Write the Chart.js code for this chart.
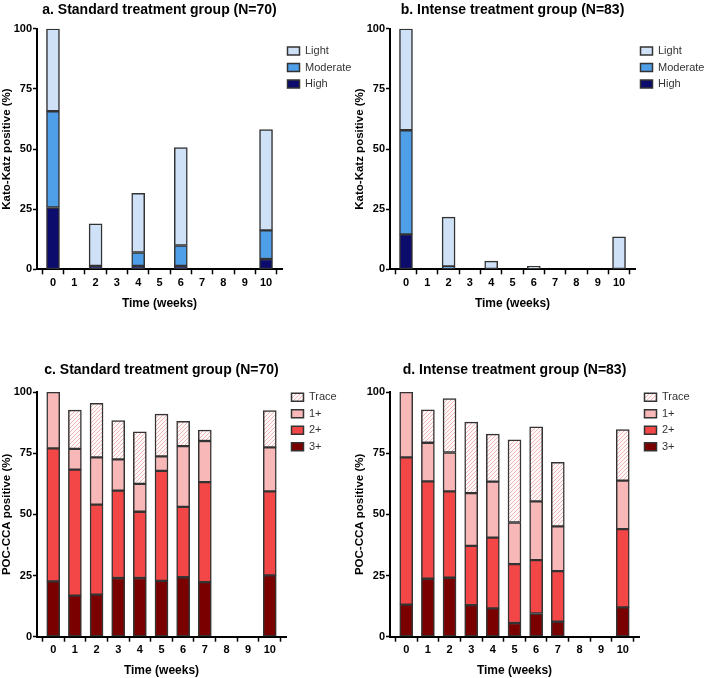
<!DOCTYPE html>
<html><head><meta charset="utf-8">
<script src="https://cdn.jsdelivr.net/npm/chart.js@4.4.0/dist/chart.umd.min.js"></script>
<style>
html,body{margin:0;padding:0;background:#fff;width:706px;height:678px;overflow:hidden}
canvas{position:absolute}
</style></head><body>
<canvas id="ca" width="353" height="318" style="left:0;top:0"></canvas>
<canvas id="cb" width="353" height="318" style="left:353px;top:0"></canvas>
<canvas id="cc" width="353" height="320" style="left:0;top:358px"></canvas>
<canvas id="cd" width="353" height="320" style="left:353px;top:358px"></canvas>
<script>
// ---------- data ----------
const weeks = [0,1,2,3,4,5,6,7,8,9,10];
const yTicks = [0,25,50,75,100];
const kkLabels = ['High','Moderate','Light'];
const ccaLabels = ['3+','2+','1+','Trace'];

// a. Standard treatment group (Kato-Katz), segment heights in %
const aHigh     = [25.7,null,1.4,null,1.4,null,1.4,null,null,null,4.3];
const aModerate = [40.0,null,null,null,5.6,null,8.5,null,null,null,11.9];
const aLight    = [34.3,null,17.5,null,24.6,null,40.7,null,null,null,41.9];

// b. Intense treatment group (Kato-Katz)
const bHigh     = [14.5,null,null,null,null,null,null,null,null,null,null];
const bModerate = [43.3,null,1.2,null,null,null,null,null,null,null,null];
const bLight    = [42.2,null,20.5,null,3.4,null,1.2,null,null,null,13.5];

// c. Standard treatment group (POC-CCA)
const c3 = [22.6,16.8,17.2,24.0,24.0,22.8,24.3,22.3,null,null,25.1];
const c2 = [54.4,51.5,36.8,35.7,27.1,45.0,28.8,40.9,null,null,34.3];
const c1 = [23.0,8.5,19.3,12.8,11.4,5.9,24.8,16.8,null,null,18.0];
const cT = [null,15.8,22.1,15.9,21.3,17.3,10.2,4.5,null,null,15.0];

// d. Intense treatment group (POC-CCA)
const d3 = [13.1,23.7,24.1,12.9,11.6,5.6,9.5,6.1,null,null,12.0];
const d2 = [60.2,39.8,35.3,24.2,28.9,24.1,21.8,20.7,null,null,32.0];
const d1 = [26.7,15.8,15.9,21.6,22.9,17.0,24.0,18.3,null,null,19.8];
const dT = [null,13.5,22.1,29.0,19.4,33.8,30.5,26.2,null,null,20.9];

// ---------- styling ----------
const F = '"Liberation Sans", Arial, Helvetica, sans-serif';
const BORDER = '#333333';

function hatch(){
  const n=4;
  const c=document.createElement('canvas'); c.width=n; c.height=n;
  const g=c.getContext('2d');
  g.fillStyle='#fffafa'; g.fillRect(0,0,n,n);
  g.strokeStyle='#f2b4b4'; g.lineWidth=1;
  g.beginPath();
  g.moveTo(0,n); g.lineTo(n,0);
  g.moveTo(-1,1); g.lineTo(1,-1);
  g.moveTo(n-1,n+1); g.lineTo(n+1,n-1);
  g.stroke();
  return g.createPattern(c,'repeat');
}

function ds(label, arr, color, thick){
  return {label, data: weeks.map((w,i)=>({x:w, y:arr[i]})), backgroundColor: color,
    borderColor: BORDER, borderWidth: 1.5, borderSkipped: false, barThickness: thick};
}

function fixLegend(w){
  return {id:'fixLegend', beforeLayout(chart){
    const lg = chart.legend;
    if (lg && !lg._fx){ const f = lg.fit; lg.fit = function(){ f.call(this); this.width = w; }; lg._fx = true; }
  }};
}

function make(id, cfg){
  new Chart(document.getElementById(id), {
    type:'bar',
    data:{datasets: cfg.datasets},
    plugins:[fixLegend(cfg.legendW)],
    options:{
      responsive:false, animation:false, devicePixelRatio:1,
      layout:{padding:0},
      plugins:{
        tooltip:{enabled:false},
        title:{display:true, text:cfg.title, fullSize:false, color:'#000',
          font:{family:F, size:14, weight:'bold'}, padding:{top:cfg.tTop, bottom:cfg.tBot}},
        legend:{position:'right', align:'start', reverse:true, fullSize:true,
          title:{display:true, text:'', padding:0, font:{size:1, lineHeight: cfg.legT+'px'}},
          labels:{boxWidth:12, boxHeight:8, padding:5.5, color:'#333', font:{family:F, size:11}}}
      },
      scales:{
        x:{type:'linear', stacked:true, min:-0.75, max:10.75, offset:false,
          afterFit: s => { s.height = cfg.xH; },
          afterBuildTicks: s => { s.ticks = weeks.map(v=>({value:v})); },
          border:{display:true, color:'#000', width:2},
          grid:{display:true, drawOnChartArea:false, drawTicks:true, tickLength:5, tickWidth:1.5, tickColor:'#000', color:'#000'},
          ticks:{autoSkip:false, maxRotation:0, padding:cfg.xPad, color:'#000', font:{family:F, size:11, weight:'bold'}},
          title:{display:true, text:'Time (weeks)', color:'#000', font:{family:F, size:12, weight:'bold'}, padding:{top:0, bottom:cfg.xtBot}}
        },
        y:{stacked:true, min:0, max:100,
          afterFit: s => { s.width = 37; },
          afterBuildTicks: s => { s.ticks = yTicks.map(v=>({value:v})); },
          border:{display:true, color:'#000', width:2},
          grid:{display:true, drawOnChartArea:false, drawTicks:true, tickLength:4, tickWidth:1.5, tickColor:'#000', color:'#000'},
          ticks:{padding:1, color:'#000', font:{family:F, size:11, weight:'bold'}},
          title:{display:true, text:cfg.yTitle, color:'#000', font:{family:F, size:11.5, weight:'bold'}, padding:{top:0, bottom:0}}
        }
      }
    }
  });
}

const LIGHT='#cfe1f6', MOD='#4f9ee8', HIGH='#0c0c6c';
const R3='#7a0000', R2='#f34646', R1='#f8b8b8', RT=hatch();

const topCfg = {legendW:71, tTop:2, tBot:10, legT:40, xH:48.7, xPad:2, xtBot:7.5, yTitle:'Kato-Katz positive (%)'};
const botCfg = {legendW:67, tTop:3.5, tBot:13.8, legT:28.2, xH:41.3, xPad:1.5, xtBot:0.2, yTitle:'POC-CCA positive (%)'};

make('ca', Object.assign({}, topCfg, {title:'a. Standard treatment group (N=70)',
  datasets:[ds(kkLabels[0],aHigh,HIGH,13), ds(kkLabels[1],aModerate,MOD,13), ds(kkLabels[2],aLight,LIGHT,13)]}));
make('cb', Object.assign({}, topCfg, {title:'b. Intense treatment group (N=83)',
  datasets:[ds(kkLabels[0],bHigh,HIGH,13), ds(kkLabels[1],bModerate,MOD,13), ds(kkLabels[2],bLight,LIGHT,13)]}));
make('cc', Object.assign({}, botCfg, {title:'c. Standard treatment group (N=70)',
  datasets:[ds(ccaLabels[0],c3,R3,13), ds(ccaLabels[1],c2,R2,13), ds(ccaLabels[2],c1,R1,13), ds(ccaLabels[3],cT,RT,13)]}));
make('cd', Object.assign({}, botCfg, {title:'d. Intense treatment group (N=83)',
  datasets:[ds(ccaLabels[0],d3,R3,13), ds(ccaLabels[1],d2,R2,13), ds(ccaLabels[2],d1,R1,13), ds(ccaLabels[3],dT,RT,13)]}));
</script>
</body></html>
